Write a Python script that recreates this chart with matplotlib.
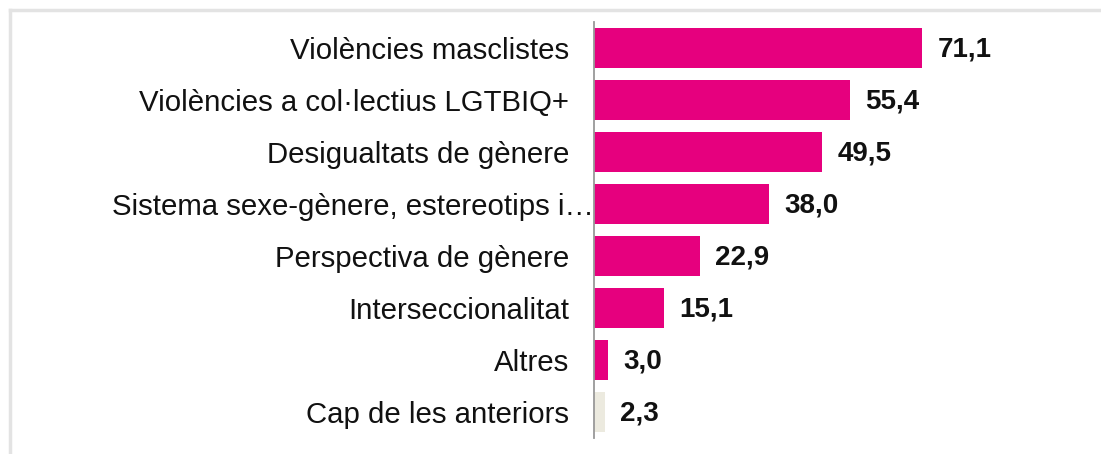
import matplotlib.pyplot as plt
from matplotlib.lines import Line2D

categories = [
    "Violències masclistes",
    "Violències a col·lectius LGTBIQ+",
    "Desigualtats de gènere",
    "Sistema sexe-gènere, estereotips i…",
    "Perspectiva de gènere",
    "Interseccionalitat",
    "Altres",
    "Cap de les anteriors",
]
values = [71.1, 55.4, 49.5, 38.0, 22.9, 15.1, 3.0, 2.3]
value_labels = ["71,1", "55,4", "49,5", "38,0", "22,9", "15,1", "3,0", "2,3"]
bar_colors = ["#E6007E"] * 7 + ["#ECEADF"]

plt.rcParams['font.family'] = ['Liberation Sans', 'DejaVu Sans']

W, H = 1101, 454
fig = plt.figure(figsize=(W / 100, H / 100), dpi=100)

# light frame around the chart (top and left visible)
fig.add_artist(Line2D([10 / W, 10 / W], [0, 1 - 10 / H], color="#e3e3e3", lw=2.5,
                      transform=fig.transFigure))
fig.add_artist(Line2D([10 / W, 1], [1 - 10 / H, 1 - 10 / H], color="#e3e3e3", lw=2.5,
                      transform=fig.transFigure))

ax = fig.add_axes([594 / W, 16 / H, (W - 594) / W, 416 / H])
ypos = list(range(len(categories)))
ax.barh(ypos, values, height=0.77, color=bar_colors)
ax.set_xlim(0, (W - 594) / 4.613)
ax.set_ylim(len(categories) - 0.5, -0.5)

for y, v, lab in zip(ypos, values, value_labels):
    ax.annotate(lab, (v, y), xytext=(11, -1), textcoords="offset points",
                va="center", ha="left", fontsize=20, fontweight="bold", color="#111111")

ax.set_yticks(ypos)
ax.set_yticklabels(categories, fontsize=21.2, color="#111111")
ax.tick_params(axis="y", length=0, pad=18)
# the truncated label sits closer to the axis in the original
ax.get_yticklabels()[3].set_x(0.05)
ax.set_xticks([])
for s in ["top", "right", "bottom"]:
    ax.spines[s].set_visible(False)
ax.spines["left"].set_color("#999999")
ax.spines["left"].set_linewidth(1.3)

fig.savefig("out.png", dpi=100)
